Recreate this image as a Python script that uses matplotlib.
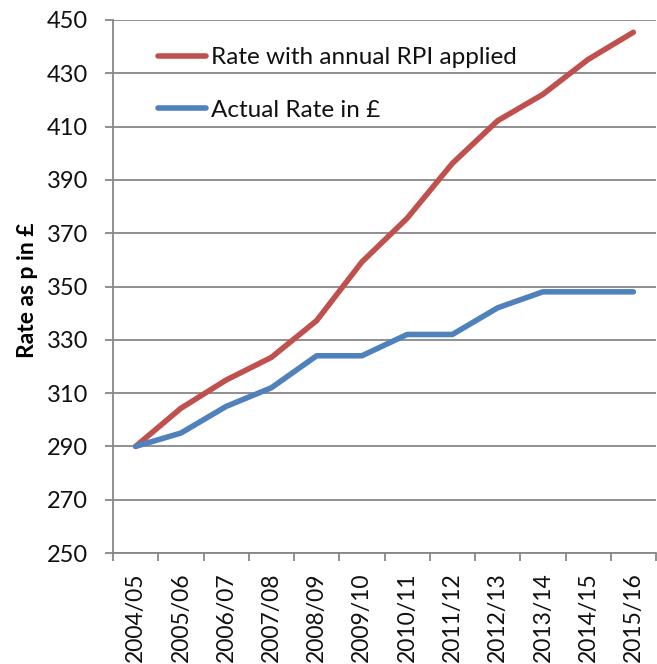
import matplotlib
matplotlib.use("Agg")
import matplotlib.pyplot as plt

years = ["2004/05", "2005/06", "2006/07", "2007/08", "2008/09", "2009/10",
         "2010/11", "2011/12", "2012/13", "2013/14", "2014/15", "2015/16"]
rpi_rate = [290, 304.3, 314.9, 323.4, 337.2, 359.2, 375.6, 396.2, 412.2, 422.1, 435.2, 445.4]
actual_rate = [290, 295, 305, 312, 324, 324, 332, 332, 342, 348, 348, 348]

plt.rcParams['font.family'] = ['Lato', 'DejaVu Sans']

fig = plt.figure(figsize=(6.57, 6.64), dpi=100)
ax = fig.add_axes([113/657, 1-553/664, (656-113)/657, (553-20)/664])

x = list(range(len(years)))
ax.plot(x, rpi_rate, color='#C0504D', lw=4, solid_capstyle='round', label='Rate with annual RPI applied', zorder=3)
ax.plot(x, actual_rate, color='#4F81BD', lw=4, solid_capstyle='round', label='Actual Rate in £', zorder=3)

ax.set_xlim(-0.5, len(years)-0.5)
ax.set_ylim(250, 450)
ax.set_yticks(range(250, 451, 20))
ax.yaxis.grid(True, color='#878787', lw=1.3)
ax.set_axisbelow(True)

ax.set_xticks([i - 0.5 for i in range(len(years)+1)], minor=False)
ax.set_xticklabels([])
ax.set_xticks(x, minor=True)
ax.set_xticklabels(years, minor=True, rotation=90, fontsize=16.5, color='#111111')
ax.tick_params(axis='x', which='minor', length=0, pad=14)
ax.tick_params(axis='x', which='major', length=6, color='#878787', width=1.3, direction='out')
ax.tick_params(axis='y', length=6, color='#878787', width=1.3, labelsize=17, pad=12, labelcolor='#111111')

for s in ['top', 'right']:
    ax.spines[s].set_visible(False)
for s in ['left', 'bottom']:
    ax.spines[s].set_color('#878787')
    ax.spines[s].set_linewidth(1.3)

ax.set_ylabel('Rate as p in £', fontsize=16.5, fontweight='bold')
ax.yaxis.set_label_coords(-0.138, 0.492)

leg = ax.legend(loc='upper left', bbox_to_anchor=(0.042, 0.99), frameon=False, fontsize=17.5,
                handlelength=2.0, handletextpad=0.2, labelspacing=1.3)
for t in leg.get_texts():
    t.set_color('#111111')

fig.savefig('out.png', dpi=100)
